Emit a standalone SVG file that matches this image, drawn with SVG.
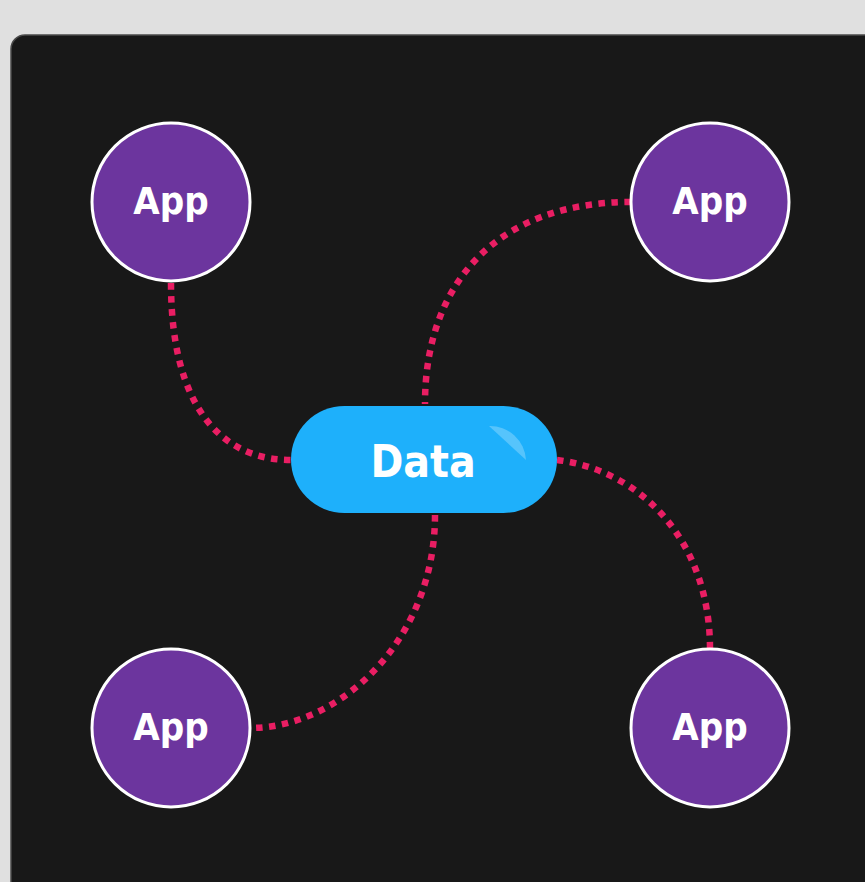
<svg xmlns="http://www.w3.org/2000/svg" width="865" height="882" viewBox="0 0 865 882">
<style>
.app circle{fill:#6c359e;stroke:#ffffff;stroke-width:3}
.lbl{font-family:"DejaVu Sans Condensed","DejaVu Sans",sans-serif;font-weight:bold;fill:#ffffff;text-anchor:middle}
.conn path{fill:none;stroke:#e91e63;stroke-width:6.5;stroke-dasharray:6.5 6.5}
</style>
<rect x="0" y="0" width="865" height="882" fill="#e0e0e0"/>
<rect x="11" y="35" width="880" height="880" rx="14" fill="#181818" stroke="#4a4a4a" stroke-width="1.5"/>
<g id="connectors" class="conn">
<path d="M171,283 C171,405 220,460 291,460"/>
<path d="M631,202 C500,202 425,280 425,404"/>
<path d="M435,515 C435,640 340,728 250,728"/>
<path d="M557,460 C640,470 710,540 710,649"/>
</g>
<g id="data">
<rect x="291" y="406" width="266" height="107" rx="53.5" fill="#1eb0fb"/>
<path d="M489,426 A36,36 0 0 1 526,460 Z" fill="#ffffff" fill-opacity="0.25"/>
<text class="lbl" x="423" y="477" font-size="44">Data</text>
</g>
<g id="app1" class="app"><circle cx="171" cy="202" r="79"/><text class="lbl" x="171" y="214" font-size="38">App</text></g>
<g id="app2" class="app"><circle cx="710" cy="202" r="79"/><text class="lbl" x="710" y="214" font-size="38">App</text></g>
<g id="app3" class="app"><circle cx="171" cy="728" r="79"/><text class="lbl" x="171" y="740" font-size="38">App</text></g>
<g id="app4" class="app"><circle cx="710" cy="728" r="79"/><text class="lbl" x="710" y="740" font-size="38">App</text></g>
</svg>
